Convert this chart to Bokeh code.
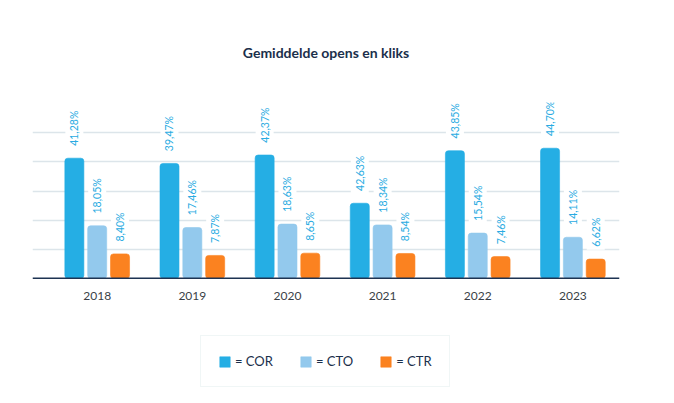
import math
from bokeh.plotting import figure
from bokeh.models import ColumnDataSource, Range1d, FixedTicker, Legend, LegendItem, Span
from bokeh.core.properties import value
from bokeh.embed import file_html
from bokeh.resources import INLINE

years = ["2018", "2019", "2020", "2021", "2022", "2023"]
# bar heights as drawn in the picture (2021 COR bar is drawn lower than its label)
cor = [41.28, 39.47, 42.37, 25.8, 43.85, 44.70]
cto = [18.05, 17.46, 18.63, 18.34, 15.54, 14.11]
ctr = [8.40, 7.87, 8.65, 8.54, 7.46, 6.62]
# labels as printed
cor_labels = ["41,28%", "39,47%", "42,37%", "42,63%", "43,85%", "44,70%"]
cto_labels = ["18,05%", "17,46%", "18,63%", "18,34%", "15,54%", "14,11%"]
ctr_labels = ["8,40%", "7,87%", "8,65%", "8,54%", "7,46%", "6,62%"]
series_names = ["= COR", "= CTO", "= CTR"]
colors = ["#25aee4", "#93c9ed", "#fb8220"]
grid_ticks = [10, 20, 30, 40, 50]

FONT = "Lato"
idx = list(range(len(years)))
offsets = [-0.24, 0.0, 0.24]
BW = 0.2
LABEL_GAP = 3.2
PX = 2.93  # pixels per percent

p = figure(width=674, height=403, x_range=Range1d(-0.68, 5.49),
           y_range=Range1d(-126 / PX, 177 / PX),
           output_backend="svg", toolbar_location=None,
           min_border_left=32, min_border_right=55, min_border_top=100, min_border_bottom=0)
p.outline_line_color = None
p.background_fill_color = "white"
p.border_fill_color = "white"

p.title.text = "Gemiddelde opens en kliks"
p.title.align = "center"
p.title.text_font = FONT
p.title.text_font_style = "bold"
p.title.text_font_size = "14px"
p.title.text_color = "#1b2f4b"
p.title.standoff = 83

p.xaxis.visible = False
p.yaxis.visible = False
p.xgrid.visible = False
p.ygrid.ticker = FixedTicker(ticks=grid_ticks)
p.ygrid.grid_line_color = "#dce5ea"
p.ygrid.grid_line_width = 1.5

renderers = []
for vals, labs, off, col in zip([cor, cto, ctr], [cor_labels, cto_labels, ctr_labels], offsets, colors):
    src = ColumnDataSource(dict(
        x=[i + off for i in idx], top=vals, lab=labs,
        ly=[v + LABEL_GAP for v in vals]))
    r = p.vbar(x="x", top="top", width=BW, source=src, fill_color=col, line_color=col,
               line_alpha=0.6, border_radius=3)
    renderers.append(r)
    p.text(x="x", y="ly", text="lab", source=src, angle=math.pi / 2,
           text_align="left", text_baseline="middle",
           text_font=value(FONT), text_font_size="10.5px", text_color="#29abe2",
           background_fill_color="white", padding=3)

# baseline (x axis line)
p.add_layout(Span(location=0, dimension="width", line_color="#1d3352", line_width=1.5))

# year labels under the baseline
p.text(x=idx, y=[-18 / PX] * len(idx), text=years, text_align="center", text_baseline="middle",
       text_font=value(FONT), text_font_size="12px", text_color="#3a3f47")

legend = Legend(items=[LegendItem(label=n, renderers=[r]) for n, r in zip(series_names, renderers)],
                orientation="horizontal", location=(168, 16),
                border_line_color="#e1eeee", border_line_width=1.5,
                padding=17, spacing=26, glyph_width=13, glyph_height=13,
                label_standoff=4, label_text_font=FONT, label_text_font_size="13px",
                label_text_color="#1b2f4b", margin=0)
p.add_layout(legend)

open("out.html", "w").write(file_html(p, INLINE))
